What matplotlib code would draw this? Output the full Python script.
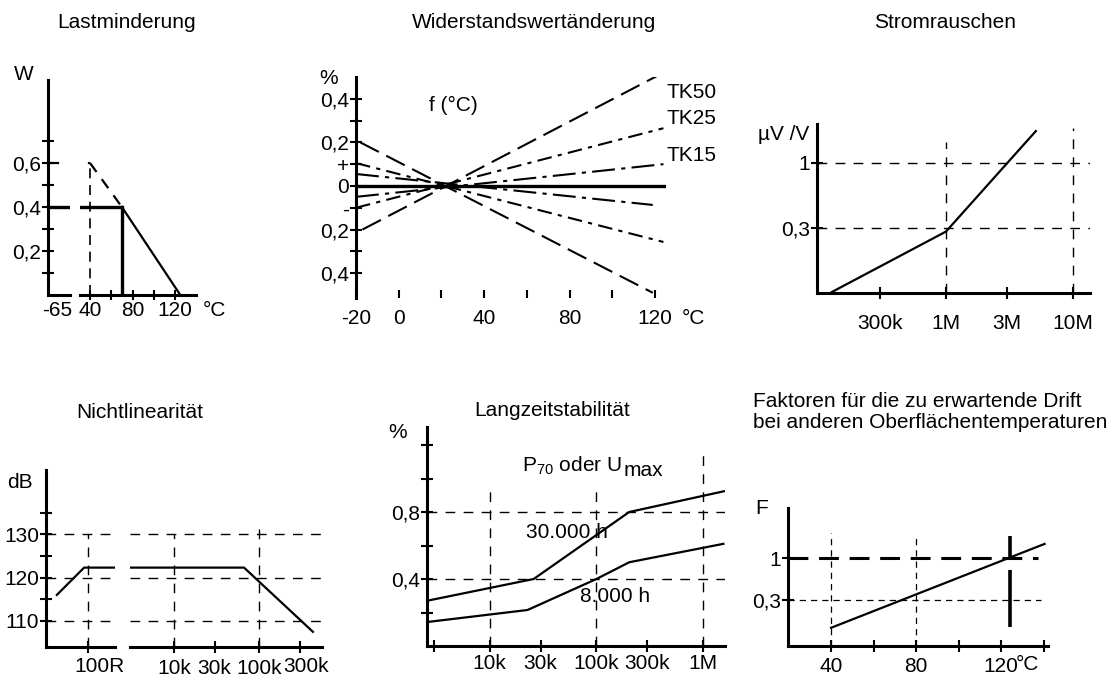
import numpy as np
import matplotlib.pyplot as plt

plt.rcParams['font.family'] = ['Liberation Sans', 'DejaVu Sans']
plt.rcParams['font.size'] = 15
plt.rcParams['axes.linewidth'] = 2.2

W, H = 1113, 678
fig = plt.figure(figsize=(W / 100, H / 100), dpi=100)

# ---------------- data ----------------
# Lastminderung: load (W) over temperature (°C)
derate_t = [-65, 70, 125]
derate_p = [0.4, 0.4, 0.0]
ext_t = [40, 70]            # dashed extension of the derating line
ext_p = [0.6, 0.4]
peak_p = 0.6
peak_t = 40
knee_t = 70
load_ticks = [0.1, 0.2, 0.3, 0.4, 0.5, 0.6, 0.7]
load_labels = ['', '0,2', '', '0,4', '', '0,6', '']
temp1_ticks = [40, 60, 80, 100, 120]
temp1_labels = ['40', '', '80', '', '120']

# Widerstandswertänderung: TK lines, start and end points (°C, %)
tk_names = ['TK50', 'TK25', 'TK15']
tk_up_t = [[-17, 124], [-20, 124], [-20, 124]]
tk_up_v = [[-0.20, 0.52], [-0.10, 0.265], [-0.05, 0.10]]
tk_dn_t = [[-18, 119], [-20, 124], [-20, 119]]
tk_dn_v = [[0.20, -0.49], [0.105, -0.257], [0.055, -0.087]]
tk_styles = [(0, (10, 4)), (0, (7, 3, 2, 3)), (0, (11, 3, 2, 3))]
tk_label_v = [0.43, 0.31, 0.14]
dr_ticks = [-0.4, -0.3, -0.2, -0.1, 0, 0.1, 0.2, 0.3, 0.4]
dr_labels = ['0,4', '', '0,2', '-', '0', '+', '0,2', '', '0,4']
temp2_ticks = [-20, 0, 20, 40, 60, 80, 100, 120]
temp2_labels = ['-20', '0', '', '40', '', '80', '', '120']

# Stromrauschen: noise (µV/V) over resistance
noise_r = [1.26e5, 1e6, 5.1e6]
noise_v = [0.091, 0.28, 1.81]
noise_xticks = [3e5, 1e6, 3e6, 1e7]
noise_xlabels = ['300k', '1M', '3M', '10M']
noise_yticks = [0.3, 1]
noise_ylabels = ['0,3', '1']

# Nichtlinearität: dB over resistance (broken axis)
nl_r_left = [43, 90, 210]
nl_db_left = [116, 122.3, 122.3]
nl_r_right = [3.0e3, 6.67e4, 4.31e5]
nl_db_right = [122.3, 122.3, 107.5]
nl_yticks = [110, 115, 120, 125, 130, 135]
nl_ylabels = ['110', '', '120', '', '130', '']
nl_xticks = [1e4, 3e4, 1e5, 3e5]
nl_xlabels = ['10k', '30k', '100k', '']

# Langzeitstabilität: drift (%) over resistance
lt_r_30k = [2.58e3, 2.58e4, 2.03e5, 1.6e6]
lt_v_30k = [0.27, 0.40, 0.80, 0.925]
lt_r_8k = [2.58e3, 2.26e4, 1e5, 2.03e5, 1.55e6]
lt_v_8k = [0.143, 0.215, 0.40, 0.50, 0.61]
lt_yticks = [0.2, 0.4, 0.6, 0.8, 1.0, 1.2]
lt_ylabels = ['', '0,4', '', '0,8', '', '']
lt_xticks = [3e3, 1e4, 3e4, 1e5, 3e5, 1e6]
lt_xlabels = ['', '10k', '30k', '100k', '300k', '1M']

# Drift factor F over surface temperature
drift_t = [40, 140.5]
drift_f = [0.134, 1.5]
f_yticks = [0.3, 1]
f_ylabels = ['0,3', '1']
f_xticks = [40, 60, 80, 100, 120, 140]
f_xlabels = ['40', '', '80', '', '120', '']


def axes_px(x0, y0, x1, y1, spines=('left', 'bottom')):
    # axes placed in pixel coordinates of the 1113x678 picture
    ax = fig.add_axes([x0 / W, 1 - y1 / H, (x1 - x0) / W, (y1 - y0) / H])
    ax.patch.set_visible(False)
    for name, sp in ax.spines.items():
        sp.set_visible(name in spines)
        sp.set_capstyle('projecting')
    ax.tick_params(direction='inout', length=8, width=1.5, pad=1)
    return ax


def ftext(x, y, s, **kw):
    kw.setdefault('ha', 'center')
    kw.setdefault('va', 'center')
    return fig.text(x / W, 1 - y / H, s, **kw)


def no_minor(ax):
    ax.set_xticks([], minor=True)
    ax.set_yticks([], minor=True)


grid_kw = dict(color='k', lw=1.0, ls=(0, (7, 6)))

# ---------------- Lastminderung ----------------
ftext(127, 22, 'Lastminderung')
ftext(24, 75, 'W')
ftext(57, 310, '-65')
ftext(203, 310, '°C', ha='left')
ylim1 = (0, 0.977)
a1 = axes_px(48, 80, 70, 295)
a1.set_xlim(-65, -65 + 22 / 1.0625)
a2 = axes_px(80, 80, 196, 295, spines=('bottom',))
a2.set_xlim(40 - 10 / 1.0625, 120 + 21 / 1.0625)
for ax in (a1, a2):
    ax.set_ylim(*ylim1)
    ax.plot(derate_t[:2], derate_p[:2], color='k', lw=2.4, solid_capstyle='butt')
    ax.plot([derate_t[0], peak_t], [peak_p, peak_p], color='k', lw=1.6, ls=(0, (5, 5)))
a2.plot(derate_t[1:], derate_p[1:], color='k', lw=1.6)
a2.plot(ext_t, ext_p, color='k', lw=1.6, ls=(0, (5, 4)))
a2.plot([peak_t, peak_t], [0, peak_p], color='k', lw=1.2, ls=(0, (6, 4)))
a2.plot([knee_t, knee_t], [0, derate_p[1]], color='k', lw=2.4)
a1.set_yticks(load_ticks, load_labels)
a1.set_xticks([])
a2.set_yticks([])
a2.set_xticks(temp1_ticks, temp1_labels)
a2.tick_params(axis='x', length=7, pad=1)

# ---------------- Widerstandswertänderung ----------------
ftext(534, 22, 'Widerstandswertänderung')
ftext(329, 78, '%')
ftext(453, 105, 'f (°C)')
ftext(693, 318, '°C')
b = axes_px(356, 77, 666, 298, spines=('left',))
b.set_xlim(-20, -20 + 310 / 2.135)
b.set_ylim(-0.514, 0.5)
b.axhline(0, color='k', lw=2.4)
for name, tu, vu, td, vd, st, lv in zip(tk_names, tk_up_t, tk_up_v, tk_dn_t, tk_dn_v,
                                        tk_styles, tk_label_v):
    b.plot(tu, vu, color='k', lw=1.5, ls=st)
    b.plot(td, vd, color='k', lw=1.5, ls=st)
    b.text(137, lv, name, ha='center', va='center', clip_on=False)
b.set_yticks(dr_ticks, dr_labels)
b.set_xticks(temp2_ticks, temp2_labels)
b.tick_params(axis='x', direction='in', length=6, width=1.5, pad=8)

# ---------------- Stromrauschen ----------------
ftext(945, 22, 'Stromrauschen')
ftext(784, 135, 'µV /V')
c = axes_px(817, 124, 1090, 293)
c.set_xscale('log')
c.set_yscale('log')
c.set_xlim(10 ** (6 - 129 / 127), 10 ** (6 + 144 / 127))
c.set_ylim(10 ** (-130 / 124), 10 ** (39 / 124))
for v in noise_yticks:
    c.axhline(v, **grid_kw)
c.plot([1e6, 1e6], [c.get_ylim()[0], 1.48], **grid_kw)
c.plot([1e7, 1e7], [c.get_ylim()[0], 1.92], **grid_kw)
c.plot(noise_r, noise_v, color='k', lw=1.6)
no_minor(c)
c.set_xticks(noise_xticks, noise_xlabels)
c.set_yticks(noise_yticks, noise_ylabels)
c.tick_params(axis='x', pad=11)

# ---------------- Nichtlinearität ----------------
ftext(140, 413, 'Nichtlinearität')
ftext(20, 483, 'dB')
ftext(99, 667, '100R')
ftext(306, 667, '300k')
ylim4 = (104.0, 144.8)
d1 = axes_px(46, 470, 115, 647)
d1.set_xscale('log')
d1.set_xlim(10 ** (2 - 42 / 85), 10 ** (2 + 27 / 85))
d2 = axes_px(130, 470, 322, 647, spines=('bottom',))
d2.set_xscale('log')
d2.set_xlim(10 ** (4 - 44 / 85), 10 ** (5 + 63 / 85))
for ax in (d1, d2):
    ax.set_ylim(*ylim4)
    for v in [110, 120, 130]:
        ax.axhline(v, **grid_kw)
    no_minor(ax)
d1.plot([100, 100], [ylim4[0], 130], **grid_kw)
d2.plot([1e4, 1e4], [ylim4[0], 130], **grid_kw)
d2.plot([1e5, 1e5], [ylim4[0], 132.6], **grid_kw)
d1.plot(nl_r_left, nl_db_left, color='k', lw=1.6)
d2.plot(nl_r_right, nl_db_right, color='k', lw=1.6)
d1.set_yticks(nl_yticks, nl_ylabels)
d1.set_xticks([100], [''])
d2.set_yticks([])
d2.set_xticks(nl_xticks, nl_xlabels)
for ax in (d1, d2):
    ax.tick_params(axis='x', pad=5)

# ---------------- Langzeitstabilität ----------------
ftext(552, 410, 'Langzeitstabilität')
ftext(398, 433, '%')
e = axes_px(427, 427, 725, 646)
pu = ftext(522, 466, r'P$_{\mathregular{70}}$ oder U', ha='left')
e.annotate('max', xy=(1, 0.32), xycoords=pu, xytext=(1, 0), textcoords='offset points',
           ha='left', va='center', annotation_clip=False)
ftext(567, 532, '30.000 h')
ftext(615, 596, '8.000 h')
e.set_xscale('log')
e.set_xlim(10 ** (4 - 63 / 107), 10 ** (6 + 22 / 107))
e.set_ylim(0, 219 / 167.5)
for v in [0.4, 0.8]:
    e.axhline(v, **grid_kw)
e.plot([1e4, 1e4], [0, 0.93], **grid_kw)
e.plot([1e5, 1e5], [0, 0.95], **grid_kw)
e.plot([1e6, 1e6], [0, 1.18], **grid_kw)
e.plot(lt_r_30k, lt_v_30k, color='k', lw=1.6)
e.plot(lt_r_8k, lt_v_8k, color='k', lw=1.6)
no_minor(e)
e.set_yticks(lt_yticks, lt_ylabels)
e.set_xticks(lt_xticks, lt_xlabels)
e.tick_params(axis='x', pad=2)

# ---------------- Drift factor ----------------
ftext(753, 412, 'Faktoren für die zu erwartende Drift\nbei anderen Oberflächentemperaturen',
      ha='left', linespacing=1.1)
ftext(762, 508, 'F')
ftext(1016, 665, '°C', ha='left')
g = axes_px(788, 508, 1048, 646)
g.set_yscale('log')
g.set_xlim(40 - 43 / 2.125, 40 + 217 / 2.125)
g.set_ylim(10 ** (-88 / 80), 10 ** (50 / 80))
thin_kw = dict(color='k', lw=0.9, ls=(0, (5, 4)))
g.plot([g.get_xlim()[0], 138.6], [0.3, 0.3], **thin_kw)
g.plot([40, 40], [g.get_ylim()[0], 2.05], **thin_kw)
g.plot([80, 80], [g.get_ylim()[0], 1.83], **thin_kw)
g.plot([g.get_xlim()[0], 137.6], [1, 1], color='k', lw=2.2, ls=(0, (6.5, 3.5)))
g.plot([124, 124], [1.88, 0.137], color='k', lw=2.6, ls=(0, (6.6, 2.8, 16, 2.8)))
g.plot(drift_t, drift_f, color='k', lw=1.6)
no_minor(g)
g.set_yticks(f_yticks, f_ylabels)
g.set_xticks(f_xticks, f_xlabels)
g.tick_params(axis='x', pad=4)

fig.savefig('out.png', dpi=100)
